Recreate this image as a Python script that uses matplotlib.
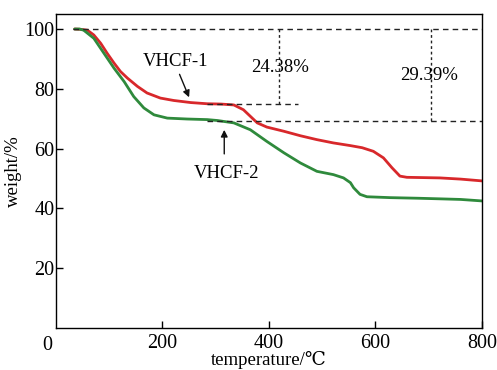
import matplotlib
matplotlib.use("Agg")
import matplotlib.pyplot as plt

plt.rcParams['font.family'] = ['Liberation Serif', 'DejaVu Serif', 'DejaVu Sans']

# VHCF-1 (red)
t1 = [35, 46, 59, 71, 84, 96, 109, 121, 134, 153, 171, 196, 221, 253, 284, 310, 334, 352, 365, 378,
      396, 428, 459, 490, 521, 553, 575, 596, 615, 631, 646, 659, 690, 721, 760, 800]
w1 = [100, 99.9, 99.6, 98.0, 95.2, 91.9, 88.6, 85.8, 83.6, 80.8, 78.6, 76.9, 76.1, 75.4, 75.0, 74.9, 74.6, 73.0, 70.8, 68.6,
      67.2, 65.8, 64.3, 63.0, 61.9, 61.0, 60.3, 59.1, 56.9, 53.6, 50.8, 50.4, 50.3, 50.2, 49.8, 49.2]
# VHCF-2 (green)
t2 = [35, 44, 52, 71, 90, 109, 128, 146, 165, 184, 209, 246, 284, 303, 334, 365, 396, 428, 459, 490,
      521, 540, 553, 559, 571, 584, 628, 680, 721, 760, 800]
w2 = [100, 100, 99.6, 96.9, 91.9, 86.9, 82.4, 77.4, 73.6, 71.3, 70.2, 69.9, 69.7, 69.4, 68.6, 66.3, 62.4, 58.6, 55.2, 52.4,
      51.3, 50.2, 48.6, 46.9, 44.7, 43.9, 43.6, 43.4, 43.2, 43.0, 42.5]

xticks = [200, 400, 600, 800]
yticks = [20, 40, 60, 80, 100]

fig = plt.figure(figsize=(4.97, 3.70), dpi=100)
ax = fig.add_axes([0.1127, 0.1135, 0.857, 0.8485])

ax.plot(t1, w1, color='#d8282b', lw=2.0, solid_capstyle='round', solid_joinstyle='round')
ax.plot(t2, w2, color='#2f8a3c', lw=2.0, solid_capstyle='round', solid_joinstyle='round')

dash = dict(color='#222222', lw=1.0, ls=(0, (4, 3)))
ax.plot([31, 800], [100, 100], **dash)
ax.plot([284, 455], [75, 75], **dash)
ax.plot([283, 800], [69.4, 69.4], **dash)
vd = dict(color='#222222', lw=1.0, ls=(0, (2, 2)))
ax.plot([418, 418], [100, 75], **vd)
ax.plot([704, 704], [100, 69.4], **vd)

fs = 13.5
ax.text(420, 87, '24.38%', ha='center', va='center', fontsize=fs)
ax.text(700, 84.3, '29.39%', ha='center', va='center', fontsize=fs)
ax.text(224, 89.2, 'VHCF-1', ha='center', va='center', fontsize=fs)
ax.text(320, 51.8, 'VHCF-2', ha='center', va='center', fontsize=fs)
ax.annotate('', xy=(252, 76.3), xytext=(230, 85.7),
            arrowprops=dict(arrowstyle='-|>', color='#111111', lw=1.0, mutation_scale=10))
ax.annotate('', xy=(316, 67.2), xytext=(316, 57.3),
            arrowprops=dict(arrowstyle='-|>', color='#111111', lw=1.0, mutation_scale=10))

ax.set_xlim(0, 800)
ax.set_ylim(0, 105)
ax.set_xticks(xticks)
ax.set_xticklabels([str(v) for v in xticks])
ax.set_yticks(yticks)
ax.set_yticklabels([str(v) for v in yticks])
ax.tick_params(direction='in', length=5, width=1, labelsize=14.5)
ax.tick_params(axis='y', pad=1)
ax.tick_params(axis='x', pad=4)
ax.text(-0.02, -0.025, '0', transform=ax.transAxes, ha='center', va='top', fontsize=14.5)
for s in ax.spines.values():
    s.set_linewidth(1.0)
ax.set_xlabel('temperature/℃', fontsize=fs, labelpad=-1)
ax.set_ylabel('weight/%', fontsize=fs, labelpad=2)

fig.savefig('out.png', dpi=100)
